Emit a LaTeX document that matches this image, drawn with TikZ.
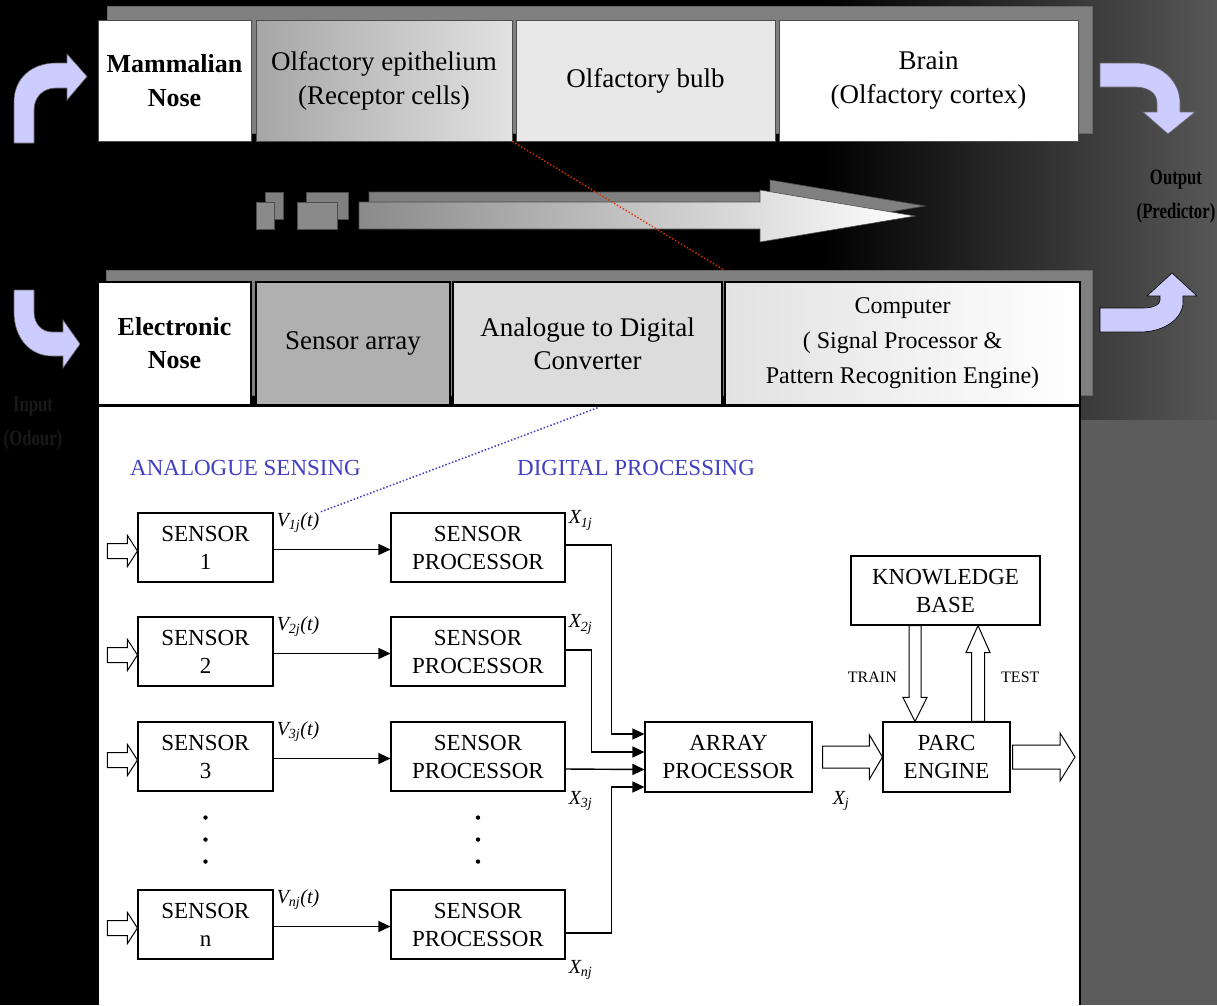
\documentclass[tikz,border=0pt]{standalone}
\usepackage{fontspec}
\usepackage{graphicx}
\setmainfont{Liberation Serif}
\newfontfamily\condfont[FakeStretch=0.76]{Liberation Serif}
\usetikzlibrary{calc,arrows.meta}
\definecolor{lav}{HTML}{CCCCFF}
\definecolor{shad}{HTML}{808080}
\definecolor{bluetxt}{HTML}{4040C0}
\definecolor{reddot}{HTML}{E03000}
\definecolor{bgA}{HTML}{575757}
\definecolor{bgB}{HTML}{5C5C5C}
\definecolor{epiL}{HTML}{A6A6A6}
\definecolor{epiR}{HTML}{E2E2E2}
\definecolor{bulb}{HTML}{E8E8E8}
\definecolor{sarr}{HTML}{B0B0B0}
\definecolor{adc}{HTML}{DCDCDC}
\definecolor{compL}{HTML}{E2E2E2}
\definecolor{arrL}{HTML}{8A8A8A}
\begin{document}
\begin{tikzpicture}[x=1pt,y=-1pt,
 topbox/.style={draw=black!70, line width=0.8pt, inner sep=0pt, align=center, font=\fontsize{27}{34}\selectfont},
 botbox/.style={draw=black, line width=1.5pt, inner sep=0pt, align=center, font=\fontsize{27}{33}\selectfont},
 blk/.style={draw=black, line width=1.1pt, fill=white, inner sep=0pt, align=center, font=\fontsize{23}{28}\selectfont},
 conn/.style={line width=1.4pt, -{Triangle[length=12pt,width=11pt]}},
 hollow/.style={draw=black, line width=1pt, fill=white, line join=miter},
 lavarrow/.style={fill=lav, draw=black!60, line width=0.6pt},
 lbl/.style={font=\fontsize{20}{22}\selectfont\itshape, inner sep=0pt},
 smalltxt/.style={font=\fontsize{16}{18}\selectfont, inner sep=0pt},
 sectiontxt/.style={text=bluetxt, font=\fontsize{23}{26}\selectfont, inner sep=0pt},
 darktxt/.style={font=\fontsize{22}{34}\selectfont\condfont\bfseries, align=center, inner sep=0pt}
]
\useasboundingbox (0,0) rectangle (1217,1005);
% background
\fill[black] (0,0) rectangle (1217,1005);
\shade[left color=black, right color=bgA] (820,0) rectangle (1217,420);
\fill[bgB] (1080,420) rectangle (1217,1005);

% lavender curved arrows
\path[lavarrow] (14,143) -- (14,102) .. controls (14,78) and (32,63) .. (56,63) -- (67,63) -- (67,54) -- (87,76.5) -- (67,100) -- (67,88) -- (56,88) .. controls (43,88) and (34,97) .. (34,110) -- (34,143) -- cycle;
\path[lavarrow] (14,290) -- (14,312) .. controls (14,338) and (30,356) .. (52,356) -- (63,356) -- (63,368) -- (80,344) -- (63,320) -- (63,332) -- (52,332) .. controls (42,332) and (34,324) .. (34,312) -- (34,290) -- cycle;
\path[lavarrow] (1100,63) -- (1135,63) .. controls (1160,63) and (1180,80) .. (1180,103) -- (1180,112) -- (1195,112) -- (1168,134) -- (1143,112) -- (1157,112) -- (1157,103) .. controls (1157,93) and (1148,87) .. (1135,87) -- (1100,87) -- cycle;
\path[lavarrow, draw=black] (1100,332) -- (1140,332) .. controls (1165,332) and (1183,318) .. (1183,302) -- (1183,296) -- (1197,296) -- (1172,273) -- (1147,296) -- (1160,296) -- (1160,300) .. controls (1160,305) and (1153,308) .. (1143,308) -- (1100,308) -- cycle;

% dark labels
\node[darktxt, text=black] (outp) at (1176,197) {Output\\(Predictor)};
\node[darktxt, text=black!90] (inp) at (33,424) {Input\\(Odour)};

% top band
\filldraw[fill=shad, draw=black!60] (107,6) rectangle (1092,133);
\node[topbox, fill=white, minimum width=153pt, minimum height=121pt, font=\fontsize{26}{34}\selectfont\bfseries] (m1) at (174.5,80.5) {Mammalian\\Nose};
\node[topbox, left color=epiL, right color=epiR, minimum width=256pt, minimum height=121pt] (m2) at (384,80.5) {Olfactory epithelium\\(Receptor cells)};
\node[topbox, fill=bulb, minimum width=259pt, minimum height=121pt] (m3) at (645.5,80.5) {Olfactory bulb};
\node[topbox, fill=white, minimum width=299pt, minimum height=121pt] (m4) at (928.5,80.5) {Brain\\(Olfactory cortex)};

% middle arrow
\filldraw[fill=shad, draw=black!70, line width=0.6pt] (265,192) rectangle (283,219);
\filldraw[fill=shad, draw=black!70, line width=0.6pt] (306,192) rectangle (348,219);
\filldraw[fill=shad, draw=black!70, line width=0.6pt] (369,192) -- (770,192) -- (770,180) -- (925,206) -- (770,232) -- (770,219) -- (369,219) -- cycle;
\filldraw[fill=arrL, draw=black!70, line width=0.6pt] (256,202) rectangle (274,229);
\filldraw[fill=arrL, draw=black!70, line width=0.6pt] (297,202) rectangle (337,229);
\shadedraw[left color=arrL, right color=white, draw=black!70, line width=0.6pt] (359,202) -- (760,202) -- (760,190) -- (915,216) -- (760,242) -- (760,229) -- (359,229) -- cycle;

% bottom band
\filldraw[fill=shad, draw=black!60] (106,270) rectangle (1092,395);
\fill[white] (98,405) rectangle (1080,1005);
\draw[black, line width=2pt] (98,1005) -- (98,405);
\draw[black, line width=2pt] (1080,1005) -- (1080,405);
\node[botbox, fill=white, minimum width=153pt, minimum height=123pt, font=\fontsize{26}{33}\selectfont\bfseries] (e1) at (174.5,343.5) {Electronic\\Nose};
\node[botbox, fill=sarr, minimum width=194pt, minimum height=123pt] (e2) at (353,343.5) {Sensor array};
\node[botbox, fill=adc, minimum width=269pt, minimum height=123pt] (e3) at (587.5,343.5) {Analogue to Digital\\Converter};
\node[botbox, left color=compL, right color=white, minimum width=355pt, minimum height=123pt, font=\fontsize{24}{35}\selectfont] (e4) at (902.5,343.5) {Computer\\( Signal Processor \&\\Pattern Recognition Engine)};
\draw[black, line width=3pt] (98,405) -- (1080,405);

% dotted links
\draw[reddot, line width=1.4pt, dotted] (m2.south east) -- ($(e3.north east)+(0,-12)$);

% section titles
\node[sectiontxt, anchor=west] (asens) at (130,468) {ANALOGUE SENSING};
\node[sectiontxt, anchor=west] (dproc) at (517,468) {DIGITAL PROCESSING};

% sensors and processors
\node[blk, minimum width=135pt, minimum height=69pt] (s1) at (205.5,547.5) {SENSOR\\1};
\node[blk, minimum width=135pt, minimum height=69pt] (s2) at (205.5,651.5) {SENSOR\\2};
\node[blk, minimum width=135pt, minimum height=69pt] (s3) at (205.5,756.5) {SENSOR\\3};
\node[blk, minimum width=135pt, minimum height=69pt] (sn) at (205.5,924.5) {SENSOR\\n};
\node[blk, minimum width=174pt, minimum height=69pt] (p1) at (478,547.5) {SENSOR\\PROCESSOR};
\node[blk, minimum width=174pt, minimum height=69pt] (p2) at (478,651.5) {SENSOR\\PROCESSOR};
\node[blk, minimum width=174pt, minimum height=69pt] (p3) at (478,756.5) {SENSOR\\PROCESSOR};
\node[blk, minimum width=174pt, minimum height=69pt] (pn) at (478,924.5) {SENSOR\\PROCESSOR};
\node[blk, minimum width=167pt, minimum height=70pt] (ap) at (728.5,757) {ARRAY\\PROCESSOR};
\node[blk, minimum width=127pt, minimum height=70pt] (parc) at (946.5,757) {PARC\\ENGINE};
\node[blk, minimum width=189pt, minimum height=69pt] (kb) at (945.5,590.5) {KNOWLEDGE\\BASE};

% input hollow arrows
\foreach \n in {s1,s2,s3,sn} {
 \draw[hollow] ($(\n.west)+(-30,-4)$) -- ($(\n.west)+(-10,-4)$) -- ($(\n.west)+(-10,-12)$) -- ($(\n.west)+(0,3.5)$) -- ($(\n.west)+(-10,19)$) -- ($(\n.west)+(-10,11)$) -- ($(\n.west)+(-30,11)$) -- cycle;
}

% sensor to processor
\foreach \a/\b in {s1/p1,s2/p2,s3/p3,sn/pn}
 \draw[conn] ($(\a.east)+(0,2)$) -- ($(\b.west)+(0,2)$);

% labels V
\node[lbl, anchor=west] (v1) at ($(s1.north east)+(3,10)$) {V\textsubscript{1j}(t)};
\node[lbl, anchor=west] (v2) at ($(s2.north east)+(3,10)$) {V\textsubscript{2j}(t)};
\node[lbl, anchor=west] (v3) at ($(s3.north east)+(3,10)$) {V\textsubscript{3j}(t)};
\node[lbl, anchor=west] (vn) at ($(sn.north east)+(3,10)$) {V\textsubscript{nj}(t)};
\draw[bluetxt, line width=1.5pt, dotted] ($(e3.south)+(10,2)$) -- (v1.north east);

% processor to array
\draw[conn] ($(p1.east)+(0,-2.5)$) -| ($(ap.west)+(-33,-23)$) -- ($(ap.west)+(0,-23)$);
\draw[conn] ($(p2.east)+(0,-1.5)$) -| ($(ap.west)+(-53,-5)$) -- ($(ap.west)+(0,-5)$);
\draw[conn] ($(p3.east)+(0,12.5)$) -- ($(ap.west)+(0,12.5)$);
\draw[conn] ($(pn.east)+(0,8.5)$) -| ($(ap.west)+(-33,30)$) -- ($(ap.west)+(0,30)$);

% X labels
\node[lbl, anchor=west] (x1) at ($(p1.north east)+(3,8)$) {X\textsubscript{1j}};
\node[lbl, anchor=west] (x2) at ($(p2.north east)+(3,8)$) {X\textsubscript{2j}};
\node[lbl, anchor=west] (x3) at ($(p3.south east)+(3,9)$) {X\textsubscript{3j}};
\node[lbl, anchor=west] (xn) at ($(pn.south east)+(3,10)$) {X\textsubscript{nj}};
\node[lbl, anchor=west] (xj) at ($(ap.south east)+(20,8)$) {X\textsubscript{j}};

% dots
\foreach \d in {26,48,70} {
 \fill ($(s3.south)+(0,\d)$) circle (2.2pt);
 \fill ($(p3.south)+(0,\d)$) circle (2.2pt);
}

% array to parc
\draw[hollow] ($(ap.east)+(10,-11)$) -- ($(parc.west)+(-13,-11)$) -- ($(parc.west)+(-13,-22)$) -- (parc.west) -- ($(parc.west)+(-13,22)$) -- ($(parc.west)+(-13,11)$) -- ($(ap.east)+(10,11)$) -- cycle;

% parc output
\coordinate (out) at (1075,757);
\draw[hollow] ($(parc.east)+(2,-12)$) -- ($(out)+(-15,-12)$) -- ($(out)+(-15,-24)$) -- (out) -- ($(out)+(-15,24)$) -- ($(out)+(-15,12)$) -- ($(parc.east)+(2,12)$) -- cycle;

% train / test
\coordinate (trx) at (915,660);
\coordinate (tsx) at (978,660);
\draw[hollow] ($(kb.south -| trx)+(-6,0)$) -- ($(parc.north -| trx)+(-6,-24)$) -- ($(parc.north -| trx)+(-12,-24)$) -- (parc.north -| trx) -- ($(parc.north -| trx)+(12,-24)$) -- ($(parc.north -| trx)+(6,-24)$) -- ($(kb.south -| trx)+(6,0)$) -- cycle;
\draw[hollow] ($(parc.north -| tsx)+(-6.5,0)$) -- ($(kb.south -| tsx)+(-6.5,27)$) -- ($(kb.south -| tsx)+(-12,27)$) -- (kb.south -| tsx) -- ($(kb.south -| tsx)+(12,27)$) -- ($(kb.south -| tsx)+(6.5,27)$) -- ($(parc.north -| tsx)+(6.5,0)$) -- cycle;
\node[smalltxt, anchor=east] (train) at (897,677) {TRAIN};
\node[smalltxt, anchor=west] (test) at (1001,677) {TEST};
\end{tikzpicture}
\end{document}
